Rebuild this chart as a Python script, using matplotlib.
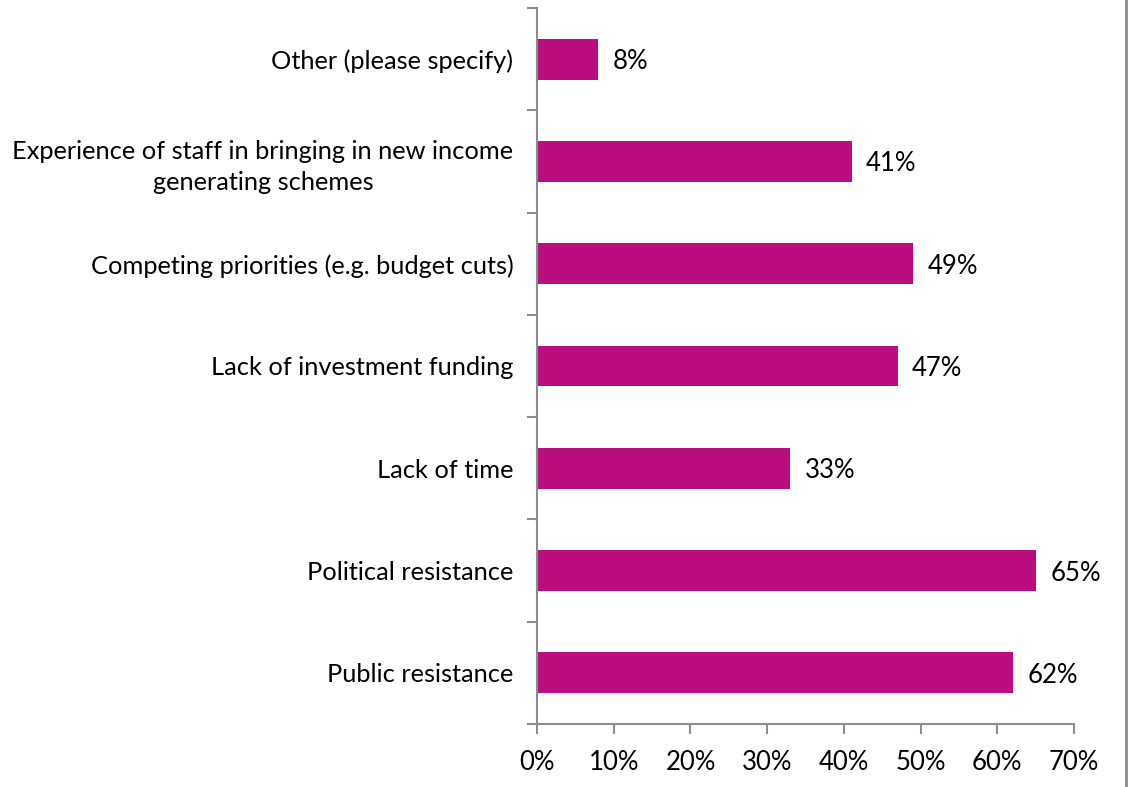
import matplotlib.pyplot as plt
from matplotlib.lines import Line2D

# 各类障碍的回答比例（从下往上）
categories = [
    "Public resistance",
    "Political resistance",
    "Lack of time",
    "Lack of investment funding",
    "Competing priorities (e.g. budget cuts)",
    "Experience of staff in bringing in new income\ngenerating schemes",
    "Other (please specify)",
]
values = [62, 65, 33, 47, 49, 41, 8]
xticks = [0, 10, 20, 30, 40, 50, 60, 70]

bar_color = "#BA0E7E"
axis_color = "#8C8C8C"

plt.rcParams['font.family'] = ['Lato', 'DejaVu Sans']

fig = plt.figure(figsize=(11.29, 7.87), dpi=100)
ax = fig.add_axes([0.4757, 0.0801, 0.4756, 0.9097])

pos = list(range(len(categories)))
ax.barh(pos, values, height=0.4, color=bar_color)

for p, v in zip(pos, values):
    ax.text(v + 1.9, p, str(v) + "%", va='center_baseline', ha='left', fontsize=18.5)

ax.set_xlim(0, 70)
ax.set_ylim(-0.5, len(categories) - 0.5)
ax.set_xticks(xticks)
ax.set_xticklabels([str(t) + "%" for t in xticks], fontsize=18.5)

# 刻度线画在类别之间，标签放在类别中心
ax.set_yticks([p - 0.5 for p in pos] + [len(pos) - 0.5])
ax.set_yticklabels([])
ax.set_yticks(pos, minor=True)
ax.set_yticklabels(categories, minor=True, fontsize=18.3, multialignment='center',
                   linespacing=1.4)
ax.tick_params(axis='y', which='minor', length=0, pad=17)
ax.tick_params(axis='y', which='major', length=7, width=1.5, color=axis_color)
ax.tick_params(axis='x', length=7, width=1.5, color=axis_color, pad=12)

for s in ['top', 'right']:
    ax.spines[s].set_visible(False)
for s in ['left', 'bottom']:
    ax.spines[s].set_color(axis_color)
    ax.spines[s].set_linewidth(1.5)

# 右侧边框
fig.add_artist(Line2D([0.9975, 0.9975], [0, 1], transform=fig.transFigure,
                      color=axis_color, linewidth=2))

fig.savefig("out.png", dpi=100)
